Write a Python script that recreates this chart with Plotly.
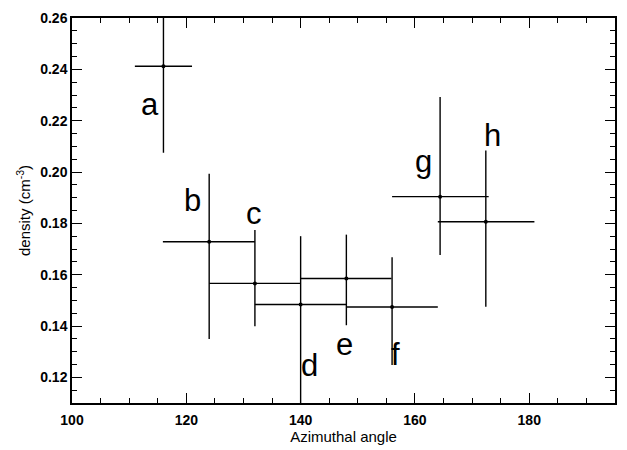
import plotly.graph_objects as go

# Data
angle = [116, 124, 132, 140, 148, 156, 164.4, 172.4]
density = [0.2412, 0.1728, 0.1566, 0.1484, 0.1585, 0.1474, 0.1904, 0.1806]
angle_err_minus = [5.0, 8.1, 8.0, 8.0, 8.0, 8.0, 8.4, 8.4]
angle_err_plus = [5.0, 8.0, 8.0, 8.0, 7.9, 8.0, 8.5, 8.5]
density_err_plus = [0.035, 0.0265, 0.0208, 0.0266, 0.0171, 0.0194, 0.0388, 0.0278]
density_err_minus = [0.0337, 0.0379, 0.0167, 0.045, 0.0182, 0.0226, 0.0227, 0.0331]

labels = ["a", "b", "c", "d", "e", "f", "g", "h"]
label_x = [113.6, 121.1, 131.9, 141.5, 147.6, 156.6, 161.5, 173.6]
label_y = [0.2263, 0.1889, 0.1839, 0.1245, 0.1327, 0.1289, 0.2039, 0.2142]

x_ticks = [100, 120, 140, 160, 180]
y_ticks = [0.12, 0.14, 0.16, 0.18, 0.20, 0.22, 0.24, 0.26]

FONT = "Liberation Sans, Arial, Helvetica, sans-serif"

fig = go.Figure()
fig.add_trace(go.Scatter(
    x=angle, y=density, mode="markers",
    marker=dict(color="black", size=4),
    error_x=dict(type="data", symmetric=False, array=angle_err_plus,
                 arrayminus=angle_err_minus, color="black", thickness=1.4, width=0),
    error_y=dict(type="data", symmetric=False, array=density_err_plus,
                 arrayminus=density_err_minus, color="black", thickness=1.4, width=0),
    showlegend=False,
))

for t, lx, ly in zip(labels, label_x, label_y):
    fig.add_annotation(x=lx, y=ly, text=t, showarrow=False,
                       xanchor="center", yanchor="middle",
                       font=dict(family=FONT, size=31, color="black"))

axis_common = dict(
    showline=True, linecolor="black", linewidth=1.5, mirror="allticks",
    ticks="inside", ticklen=10, tickwidth=1.2, tickcolor="black",
    showgrid=False, zeroline=False,
    tickfont=dict(family=FONT, size=14, color="black", weight="bold"),
)

fig.update_xaxes(
    range=[100, 195], tickvals=x_ticks, ticktext=[str(v) for v in x_ticks],
    minor=dict(dtick=5, tick0=100, ticks="inside", ticklen=5, tickwidth=1.2,
               tickcolor="black", showgrid=False),
    ticklabelstandoff=3,
    title=dict(text="Azimuthal angle", font=dict(family=FONT, size=15, color="black"),
               standoff=2),
    **axis_common,
)
fig.update_yaxes(
    range=[0.11, 0.26], tickvals=y_ticks, ticktext=[f"{v:.2f}" for v in y_ticks],
    minor=dict(dtick=0.005, tick0=0.11, ticks="inside", ticklen=5, tickwidth=1.2,
               tickcolor="black", showgrid=False),
    title=dict(text="density (cm<sup>-3</sup>)", font=dict(family=FONT, size=15, color="black"),
               standoff=6),
    **axis_common,
)

fig.update_layout(
    width=627, height=450,
    margin=dict(l=72, r=10, t=13, b=41),
    paper_bgcolor="white", plot_bgcolor="white",
    font=dict(family=FONT, color="black"),
)

fig.write_html("out.html")
